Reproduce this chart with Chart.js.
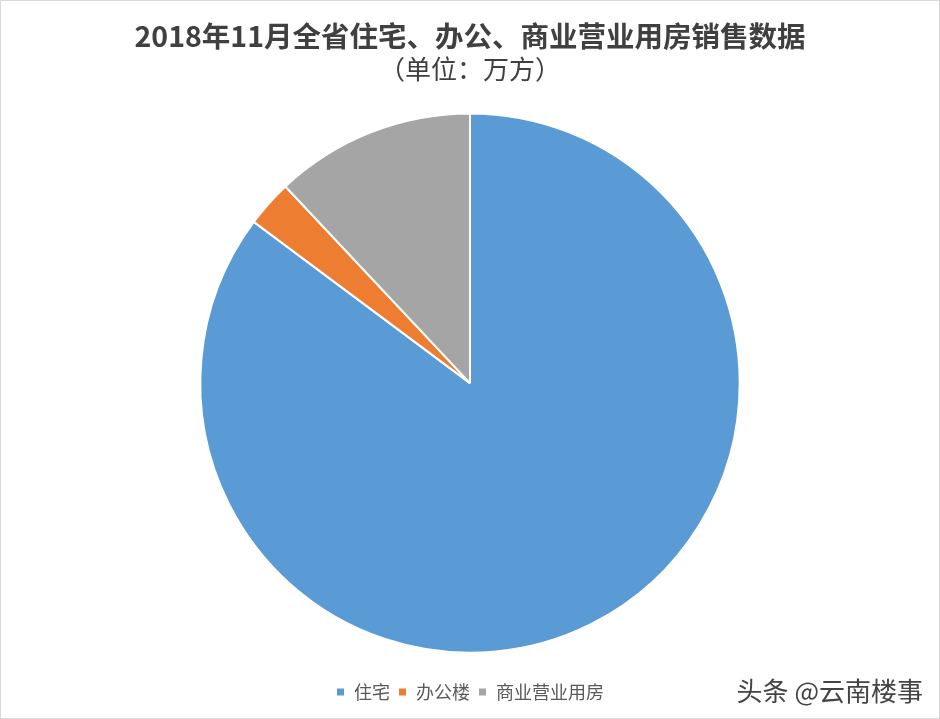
<!DOCTYPE html>
<html>
<head>
<meta charset="utf-8">
<script src="https://cdn.jsdelivr.net/npm/chart.js@4"></script>
<style>
  html, body { margin: 0; padding: 0; background: #fff; }
  #wrap { position: relative; width: 938px; height: 717px; border: 1px solid #d9d9d9; }
  #mark {
    position: absolute; right: 16px; top: 671px;
    font-family: "Noto Sans CJK SC", sans-serif; font-size: 26px; line-height: 36px;
    color: #444; text-shadow: 0 0 2px #fff;
  }
</style>
</head>
<body>
<div id="wrap">
  <canvas id="chart" width="938" height="717"></canvas>
  <div id="mark">头条 @云南楼事</div>
</div>
<script>
// 2018年11月 sales by type, share
const categories = ['住宅', '办公楼', '商业营业用房'];
const values = [85.2, 2.8, 12.0];
const colors = ['#5b9bd5', '#ed7d31', '#a5a5a5'];

const font = '"Noto Sans CJK SC", "Microsoft YaHei", sans-serif';

const ctx = document.getElementById('chart').getContext('2d');
new Chart(ctx, {
  type: 'pie',
  data: {
    labels: categories,
    datasets: [{
      data: values,
      backgroundColor: colors,
      borderColor: '#ffffff',
      borderWidth: 2
    }]
  },
  options: {
    responsive: false,
    animation: false,
    layout: { padding: { top: 0, bottom: 7, left: 0, right: 0 } },
    plugins: {
      title: {
        display: true,
        text: '2018年11月全省住宅、办公、商业营业用房销售数据',
        color: '#404040',
        font: { family: font, size: 28.5, weight: 'bold' },
        padding: { top: 18, bottom: 0 }
      },
      subtitle: {
        display: true,
        text: '（单位：万方）',
        color: '#404040',
        font: { family: font, size: 26 },
        padding: { top: 0, bottom: 28 }
      },
      legend: {
        position: 'bottom',
        // blank title only used as a spacer above the items
        title: {
          display: true,
          text: ' ',
          font: { size: 1 },
          padding: { top: 0, bottom: 20 }
        },
        labels: {
          color: '#595959',
          font: { family: font, size: 18 },
          usePointStyle: true,
          pointStyle: 'rect',
          boxWidth: 9,
          boxHeight: 9,
          padding: 8
        }
      },
      tooltip: { enabled: false }
    }
  }
});
</script>
</body>
</html>
